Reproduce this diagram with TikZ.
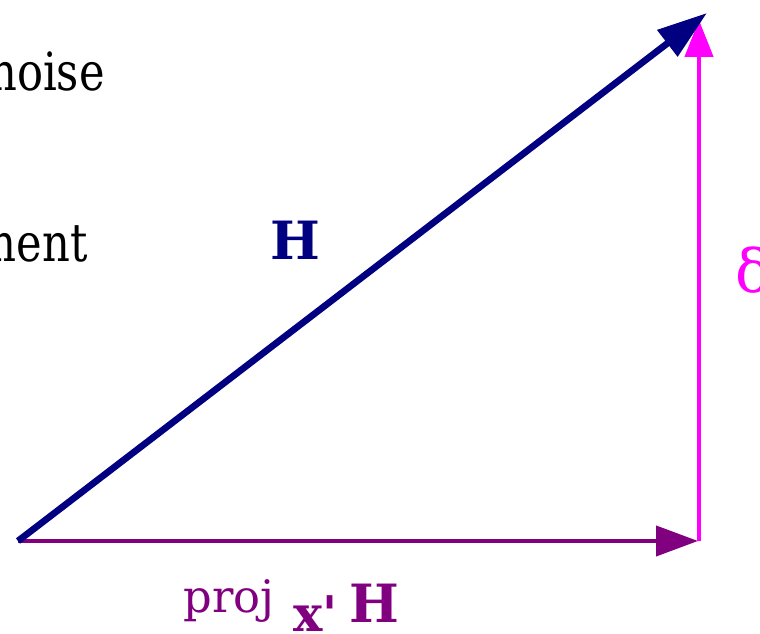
\documentclass[tikz,border=0pt]{standalone}
\usepackage{fontspec}
\setmainfont{DejaVu Serif}
\usetikzlibrary{arrows.meta}
\definecolor{hnavy}{HTML}{000080}
\definecolor{pviolet}{HTML}{800080}
\definecolor{dmagenta}{HTML}{FF00FF}

\begin{document}
\begin{tikzpicture}[line cap=butt,
    hvec/.style={hnavy, line width=3.8pt, -{Triangle[length=1.0cm, width=0.64cm]}},
    projvec/.style={pviolet, line width=2.3pt, -{Triangle[length=0.84cm, width=0.6cm]}},
    deltavec/.style={dmagenta, line width=2.5pt, -{Triangle[length=0.74cm, width=0.56cm]}},
    lbl/.style={inner sep=0pt},
    sidetext/.style={lbl, anchor=base east, xscale=0.82, transform shape, font=\fontsize{30}{36}\selectfont}]
  \useasboundingbox (0,0) rectangle (15.2,12.68);
  \clip (0,0) rectangle (15.2,12.68);

  % corners of the triangle
  \coordinate (origin) at (0.36,1.86);
  \coordinate (htip)   at (14.14,12.42);
  \coordinate (ptip)   at (13.96,1.86);
  \coordinate (pfoot)  at (13.98,1.86);
  \coordinate (dtip)   at (13.98,12.28);

  % left-hand text, cut by the frame
  \node[sidetext] (noise) at (2.10,10.86){noise};
  \node[sidetext] (ment)  at (1.76,7.44){ment};

  % the three vectors
  \draw[projvec]  (origin) -- (ptip);
  \draw[deltavec] (pfoot) -- (dtip);
  \draw[hvec]     (origin) -- (htip);

  % vector labels
  \node[lbl, hnavy, anchor=base, font=\fontsize{30}{36}\selectfont\bfseries] (hlabel) at (5.91,7.48){H};
  \node[lbl, dmagenta, anchor=base west, font=\fontsize{34}{40}\selectfont] (delta) at (14.70,6.82){δ};
  \node[lbl, pviolet, anchor=base west, font=\fontsize{25.5}{30}\selectfont] (proj) at (3.66,0.42){proj};
  \node[lbl, pviolet, anchor=base west, font=\fontsize{28}{32}\selectfont\bfseries] (xsub) at (5.86,0.04){x\textquotesingle};
  \node[lbl, pviolet, anchor=base west, font=\fontsize{30}{36}\selectfont\bfseries] (hproj) at (6.98,0.22){H};
\end{tikzpicture}
\end{document}
